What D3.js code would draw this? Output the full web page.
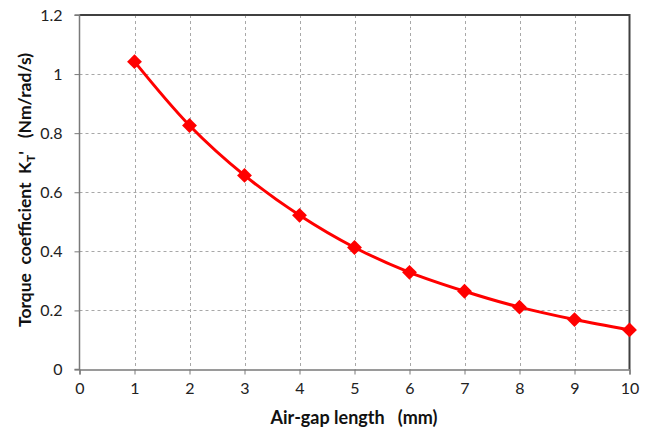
<!DOCTYPE html>
<html><head><meta charset="utf-8">
<script src="https://cdn.jsdelivr.net/npm/d3@7"></script>
<style>body{margin:0;background:#fff;} text{font-family:Lato,"Open Sans",sans-serif;}</style>
</head><body><svg id="c" width="651" height="432"></svg>
<script>
const airGap = [1,2,3,4,5,6,7,8,9,10];
const torqueCoef = [1.042,0.826,0.657,0.522,0.413,0.329,0.265,0.211,0.169,0.134];
const xTicks = [0,1,2,3,4,5,6,7,8,9,10];
const yTicks = [0,0.2,0.4,0.6,0.8,1,1.2];

const svg = d3.select("#c");
const L=79.5, R=629.5, T=15, B=369.5;
const x = d3.scaleLinear().domain([0,10]).range([L,R]);
const y = d3.scaleLinear().domain([0,1.2]).range([B,T]);

// grid
const g = svg.append("g");
g.selectAll(".vg").data(xTicks.slice(1,-1)).enter().append("line")
 .attr("x1",d=>Math.round(x(d))+0.5).attr("x2",d=>Math.round(x(d))+0.5)
 .attr("y1",T).attr("y2",B).attr("stroke","#a8a8a8").attr("stroke-width",1).attr("stroke-dasharray","3,3");
g.selectAll(".hg").data(yTicks.slice(1,-1)).enter().append("line")
 .attr("y1",d=>Math.round(y(d))+0.5).attr("y2",d=>Math.round(y(d))+0.5)
 .attr("x1",L).attr("x2",R).attr("stroke","#a8a8a8").attr("stroke-width",1).attr("stroke-dasharray","3,3");

// border top/right
svg.append("path").attr("d",`M${L},${T}H${R}V${B}`).attr("fill","none").attr("stroke","#404040").attr("stroke-width",2);

// axes
const xa = svg.append("g").attr("transform",`translate(0,${B})`)
 .call(d3.axisBottom(x).tickValues(xTicks).tickFormat(d3.format("d")).tickSize(5).tickPadding(8));
const ya = svg.append("g").attr("transform",`translate(${L},0)`)
 .call(d3.axisLeft(y).tickValues(yTicks).tickFormat(d=>d.toString()).tickSize(5).tickPadding(12));
[xa,ya].forEach(a=>{
  a.select(".domain").attr("stroke","#7a7a7a").attr("stroke-width",1.5);
  a.selectAll(".tick line").attr("stroke","#7a7a7a");
  a.selectAll(".tick text").attr("fill","#222").style("font-size","16px").style("font-family","Lato, 'Open Sans', sans-serif");
});
ya.select(".domain").attr("d",`M-5,${T}H0V${B}H-5`);

// line
const pts = airGap.map((d,i)=>[d,torqueCoef[i]]);
svg.append("path").datum(pts)
 .attr("d",d3.line().x(d=>x(d[0])).y(d=>y(d[1])).curve(d3.curveCatmullRom.alpha(0.5)))
 .attr("fill","none").attr("stroke","#ff0000").attr("stroke-width",3);

svg.selectAll(".m").data(pts).enter().append("path")
 .attr("d",d3.symbol(d3.symbolSquare,110))
 .attr("transform",d=>`translate(${x(d[0])},${y(d[1])}) rotate(45)`)
 .attr("fill","#ff0000");

// labels
svg.append("text").attr("x",354).attr("y",424).attr("text-anchor","middle")
 .style("font-size","18px").style("font-weight","bold").attr("fill","#111")
 .attr("xml:space","preserve").text("Air-gap length   (mm)");

const yl = svg.append("text").attr("transform","translate(31,190) rotate(-90)")
 .attr("text-anchor","middle").style("font-size","17.5px").style("font-weight","bold").attr("fill","#111")
 .attr("xml:space","preserve");
yl.append("tspan").text("Torque  coefficient  K");
yl.append("tspan").attr("dy",4).style("font-size","12px").text("T");
yl.append("tspan").attr("dy",-4).text("'   (Nm/rad/s)");
</script></body></html>
